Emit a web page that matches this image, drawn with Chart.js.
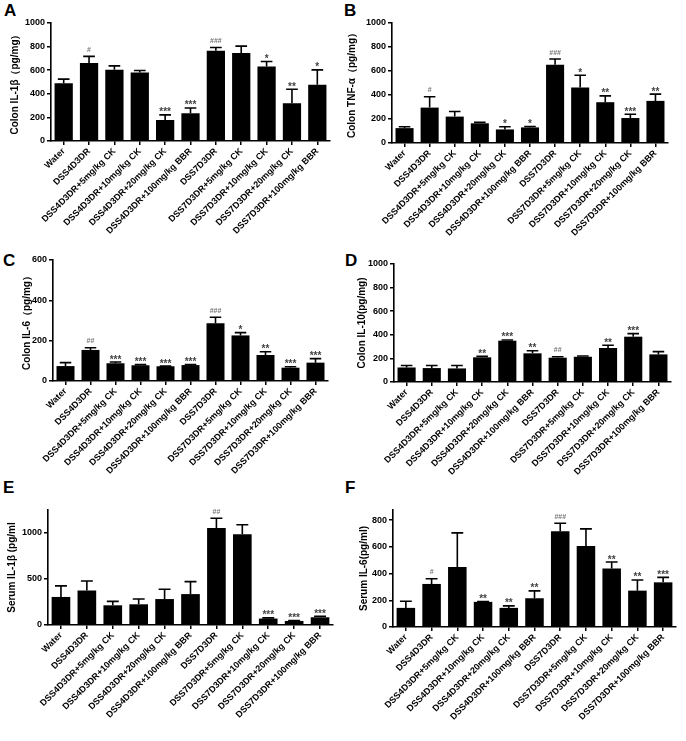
<!DOCTYPE html>
<html><head><meta charset="utf-8">
<script src="https://cdn.jsdelivr.net/npm/chart.js@4.4.0/dist/chart.umd.min.js"></script>
<style>
body{margin:0;background:#fff;width:686px;height:741px;position:relative;overflow:hidden;font-family:"Liberation Sans",Arial,sans-serif}
canvas{position:absolute}
.lbl{position:absolute;font:bold 17px "Liberation Sans",Arial,sans-serif;line-height:17px;color:#000}
</style></head><body>
<div class="lbl" style="left:4px;top:2px">A</div>
<div class="lbl" style="left:344px;top:2px">B</div>
<div class="lbl" style="left:3px;top:252px">C</div>
<div class="lbl" style="left:345px;top:252px">D</div>
<div class="lbl" style="left:3px;top:479px">E</div>
<div class="lbl" style="left:345px;top:479px">F</div>
<script>
const categories = ["Water","DSS4D3DR","DSS4D3DR+5mg/kg CK","DSS4D3DR+10mg/kg CK","DSS4D3DR+20mg/kg CK","DSS4D3DR+100mg/kg BBR","DSS7D3DR","DSS7D3DR+5mg/kg CK","DSS7D3DR+10mg/kg CK","DSS7D3DR+20mg/kg CK","DSS7D3DR+100mg/kg BBR"];

const valuesA = [490, 660, 603, 580, 178, 235, 765, 745, 632, 320, 476];
const errorsA = [34, 57, 34, 18, 43, 45, 28, 59, 42, 119, 127];
const marksA  = ["", "#", "", "", "***", "***", "###", "", "*", "**", "*"];

const valuesB = [124, 295, 220, 164, 113, 130, 653, 463, 340, 208, 351];
const errorsB = [12, 90, 42, 8, 23, 8, 47, 101, 53, 31, 56];
const marksB  = ["", "#", "", "", "*", "*", "###", "*", "**", "***", "**"];

const valuesC = [74, 154, 88, 78, 73, 79, 286, 226, 129, 66, 91];
const errorsC = [17, 11, 6, 3, 1, 2, 30, 14, 16, 5, 20];
const marksC  = ["", "##", "***", "***", "***", "***", "###", "*", "**", "***", "***"];

const valuesD = [123, 118, 115, 209, 350, 243, 206, 214, 288, 384, 234];
const errorsD = [17, 22, 25, 8, 6, 22, 8, 6, 23, 26, 23];
const marksD  = ["", "", "", "**", "***", "**", "##", "", "**", "***", ""];

const valuesE = [305, 375, 214, 225, 282, 336, 1054, 986, 70, 44, 84];
const errorsE = [120, 104, 43, 57, 107, 135, 107, 103, 7, 4, 11];
const marksE  = ["", "", "", "", "", "", "##", "", "***", "***", "***"];

const valuesF = [143, 322, 448, 188, 143, 215, 717, 605, 438, 272, 334];
const errorsF = [50, 39, 256, 2, 15, 55, 59, 129, 48, 80, 37];
const marksF  = ["", "#", "", "**", "**", "**", "###", "", "**", "**", "***"];

const titles = ["Colon IL-1β（pg/mg）","Colon TNF-α（pg/mg）","Colon IL-6（pg/mg）","Colon IL-10(pg/mg)","Serum IL-1β (pg/ml","Serum IL-6(pg/ml)"];
const yMax   = [1000, 1000, 600, 1000, 1250, 875];
const ticksA = [0, 200, 400, 600, 800, 1000];
const ticksB = [0, 200, 400, 600, 800, 1000];
const ticksC = [0, 200, 400, 600];
const ticksD = [0, 200, 400, 600, 800, 1000];
const ticksE = [0, 500, 1000];
const ticksF = [0, 200, 400, 600, 800];

const panels = [
  {v: valuesA, e: errorsA, m: marksA, t: titles[0], max: yMax[0], ticks: ticksA},
  {v: valuesB, e: errorsB, m: marksB, t: titles[1], max: yMax[1], ticks: ticksB},
  {v: valuesC, e: errorsC, m: marksC, t: titles[2], max: yMax[2], ticks: ticksC},
  {v: valuesD, e: errorsD, m: marksD, t: titles[3], max: yMax[3], ticks: ticksD},
  {v: valuesE, e: errorsE, m: marksE, t: titles[4], max: yMax[4], ticks: ticksE},
  {v: valuesF, e: errorsF, m: marksF, t: titles[5], max: yMax[5], ticks: ticksF}
];
// layout: container x,y,w,h and plot area (relative)
const layouts = [
  {x:0,   y:0,   w:343, h:240, l:51, t:23, r:330, b:141, tp:9},
  {x:343, y:0,   w:343, h:240, l:49, t:23, r:325, b:143, tp:3},
  {x:0,   y:240, w:343, h:240, l:53, t:20, r:328, b:141, tp:21},
  {x:343, y:240, w:343, h:240, l:51, t:24, r:328, b:142, tp:13},
  {x:0,   y:480, w:343, h:261, l:48, t:30, r:333, b:145, tp:6},
  {x:343, y:480, w:343, h:261, l:50, t:30, r:333, b:147, tp:15}
];

const FONT = '"Liberation Sans", Arial, sans-serif';

const errorBarPlugin = {
  id: 'errbars',
  afterDatasetsDraw(chart) {
    const ctx = chart.ctx;
    const meta = chart.getDatasetMeta(0);
    const ys = chart.scales.y;
    const ds = chart.data.datasets[0];
    ctx.save();
    meta.data.forEach((bar, i) => {
      const v = ds.data[i], e = ds.errs[i];
      const yTop = ys.getPixelForValue(v + e);
      const half = bar.width * 0.32;
      ctx.strokeStyle = '#000';
      ctx.lineWidth = 1.6;
      ctx.beginPath();
      ctx.moveTo(bar.x, bar.y);
      ctx.lineTo(bar.x, yTop);
      ctx.moveTo(bar.x - half, yTop);
      ctx.lineTo(bar.x + half, yTop);
      ctx.stroke();
      const mk = ds.marks[i];
      if (mk) {
        ctx.textAlign = 'center';
        ctx.textBaseline = 'alphabetic';
        if (mk[0] === '#') {
          ctx.fillStyle = '#777';
          ctx.font = 'bold 7px ' + FONT;
          ctx.fillText(mk, bar.x, yTop - 4.5);
        } else {
          ctx.fillStyle = '#444';
          ctx.font = 'bold 10px ' + FONT;
          ctx.fillText(mk, bar.x, yTop + 0.5);
        }
      }
    });
    ctx.restore();
  }
};

panels.forEach((p, idx) => {
  const L = layouts[idx];
  const c = document.createElement('canvas');
  c.width = L.w; c.height = L.h;
  c.style.left = L.x + 'px'; c.style.top = L.y + 'px';
  c.style.width = L.w + 'px'; c.style.height = L.h + 'px';
  document.body.appendChild(c);
  new Chart(c, {
    type: 'bar',
    data: {
      labels: categories,
      datasets: [{
        data: p.v, errs: p.e, marks: p.m,
        backgroundColor: '#000', borderWidth: 0,
        barPercentage: 0.72, categoryPercentage: 1.0
      }]
    },
    options: {
      responsive: false, animation: false, devicePixelRatio: 1,
      layout: {padding: {left: 0, top: L.t, right: L.w - L.r, bottom: 0}},
      plugins: {legend: {display: false}, tooltip: {enabled: false}},
      scales: {
        x: {
          offset: true,
          grid: {display: true, offset: false, drawOnChartArea: false, drawTicks: true, tickLength: 4, color: '#000', lineWidth: 1.5},
          border: {display: true, color: '#000', width: 1.6},
          ticks: {autoSkip: false, maxRotation: 45, minRotation: 45, color: '#000', padding: 1, font: {family: FONT, size: 9, weight: 'bold'}},
          afterFit: s => { s.height = L.h - L.b; }
        },
        y: {
          min: 0, max: p.max,
          grid: {display: true, drawOnChartArea: false, drawTicks: true, tickLength: 4, color: '#000', lineWidth: 1.5},
          border: {display: true, color: '#000', width: 1.6},
          ticks: {autoSkip: false, color: '#000', padding: 2, font: {family: FONT, size: 9, weight: 'bold'},
                  callback: v => String(v)},
          title: {display: true, text: p.t, color: '#000', padding: {top: L.tp, bottom: 0}, font: {family: FONT, size: 10, weight: 'bold'}},
          afterBuildTicks: s => { s.ticks = p.ticks.map(v => ({value: v})); },
          afterFit: s => { s.width = L.l; }
        }
      }
    },
    plugins: [errorBarPlugin]
  });
});
</script>
</body></html>
